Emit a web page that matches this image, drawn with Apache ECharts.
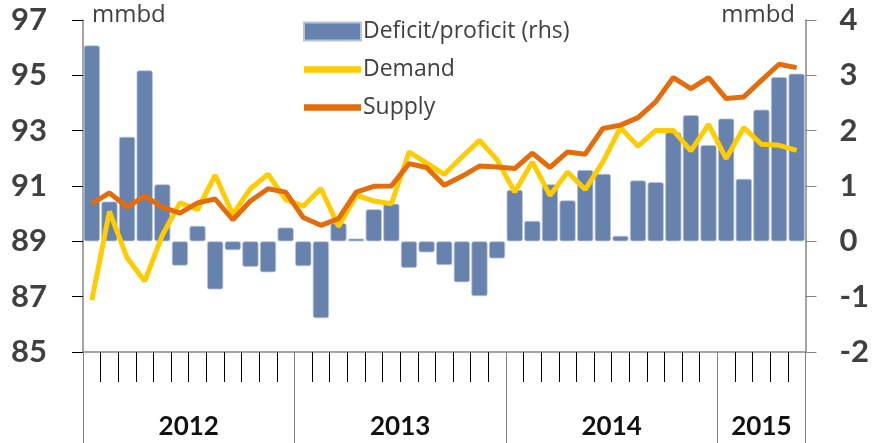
<!DOCTYPE html>
<html>
<head>
<meta charset="utf-8">
<script src="https://cdn.jsdelivr.net/npm/echarts@6/dist/echarts.min.js"></script>
<style>
  html, body { margin: 0; padding: 0; background: #fff; }
  #chart { width: 872px; height: 443px; }
</style>
</head>
<body>
<div id="chart"></div>
<script>
// monthly, Jan 2012 - May 2015
var years = ["2012", "2013", "2014", "2015"];
var monthsPerYear = [12, 12, 12, 5];

var balance = [
  3.54, 0.72, 1.89, 3.09, 1.03, -0.44, 0.28, -0.87, -0.16, -0.46, -0.56, 0.25,
  -0.45, -1.39, 0.33, 0.05, 0.58, 0.68, -0.48, -0.2, -0.43, -0.74, -0.99, -0.31,
  0.93, 0.37, 1.03, 0.74, 1.29, 1.22, 0.1, 1.1, 1.07, 1.97, 2.28, 1.74,
  2.22, 1.13, 2.38, 2.97, 3.03
];
var demand = [
  86.87, 90.08, 88.41, 87.56, 89.22, 90.39, 90.15, 91.39, 89.98, 90.9, 91.43, 90.51,
  90.27, 90.91, 89.54, 90.66, 90.46, 90.36, 92.23, 91.83, 91.42, 92.05, 92.65, 91.95,
  90.78, 91.87, 90.66, 91.51, 90.87, 91.87, 93.11, 92.44, 93.01, 93.01, 92.27, 93.23,
  91.99, 93.11, 92.51, 92.47, 92.29
];
var supply = [
  90.36, 90.75, 90.24, 90.63, 90.24, 90.02, 90.39, 90.53, 89.78, 90.46, 90.9, 90.78,
  89.86, 89.58, 89.82, 90.78, 90.99, 91.0, 91.81, 91.67, 91.03, 91.35, 91.72, 91.69,
  91.63, 92.19, 91.67, 92.23, 92.15, 93.08, 93.2, 93.47, 94.04, 94.92, 94.52, 94.92,
  94.16, 94.22, 94.82, 95.4, 95.28
];

var months = [];
var yearEdges = [0];
var yearMids = [];
monthsPerYear.forEach(function (n, k) {
  for (var m = 1; m <= n; m++) months.push(years[k] + "-" + m);
  var start = yearEdges[yearEdges.length - 1];
  yearEdges.push(start + n);
  yearMids.push(start + n / 2);
});

var chart = echarts.init(document.getElementById("chart"));
var font = "Lato, 'Open Sans', sans-serif";
var textFont = "'Open Sans', sans-serif";
// thick line icon inside the 57x18 legend box
var lineIcon = "path://M0,0L0.01,0M0,5.8L57,5.8L57,12.2L0,12.2ZM57,18L56.99,18";

chart.setOption({
  animation: false,
  textStyle: { fontFamily: font },
  grid: { left: 83, right: 66, top: 20, bottom: 91 },
  legend: {
    orient: "vertical",
    left: 298,
    top: 15,
    itemWidth: 57,
    itemHeight: 18,
    itemGap: 15,
    textStyle: { fontSize: 23, lineHeight: 18, color: "#404040", fontFamily: textFont, padding: [0, 0, 0, -3] },
    data: [
      { name: "Deficit/proficit (rhs)", icon: "rect" },
      { name: "Demand", icon: lineIcon },
      { name: "Supply", icon: lineIcon }
    ]
  },
  graphic: [
    { type: "text", left: 92, top: 3, style: { text: "mmbd", fontSize: 24, fill: "#404040", fontFamily: textFont } },
    { type: "text", right: 77, top: 3, style: { text: "mmbd", fontSize: 24, fill: "#404040", fontFamily: textFont } }
  ],
  xAxis: [
    {
      type: "category",
      data: months,
      boundaryGap: true,
      axisLine: { show: true, onZero: false, lineStyle: { color: "#868686", width: 1.5 } },
      axisTick: { show: true, interval: 0, length: 30, lineStyle: { color: "#000", width: 1 } },
      axisLabel: { show: false }
    },
    {
      type: "value",
      position: "bottom",
      min: 0,
      max: monthsPerYear.reduce(function (a, b) { return a + b; }, 0),
      axisLine: { show: false, onZero: false },
      splitLine: { show: false },
      axisTick: {
        show: true,
        customValues: yearEdges,
        length: 91,
        lineStyle: { color: "#7f7f7f", width: 1 }
      },
      axisLabel: {
        customValues: yearMids,
        margin: 62,
        fontSize: 26,
        fontWeight: "bold",
        color: "#111",
        formatter: function (v) {
          var i = yearMids.indexOf(v);
          return i >= 0 ? years[i] : "";
        }
      }
    }
  ],
  yAxis: [
    {
      type: "value",
      min: 85,
      max: 97,
      interval: 2,
      axisLine: { show: true, onZero: false, lineStyle: { color: "#868686", width: 1.5 } },
      axisTick: { show: true, length: 11, lineStyle: { color: "#000" } },
      splitLine: { show: false },
      axisLabel: { margin: 36, fontSize: 31, fontWeight: "bold", color: "#404040" }
    },
    {
      type: "value",
      min: -2,
      max: 4,
      interval: 1,
      position: "right",
      axisLine: { show: true, onZero: false, lineStyle: { color: "#868686", width: 1.5 } },
      axisTick: { show: true, length: 11, lineStyle: { color: "#868686" } },
      splitLine: { show: false },
      axisLabel: { margin: 34, fontSize: 31, fontWeight: "bold", color: "#404040" }
    }
  ],
  series: [
    {
      name: "Deficit/proficit (rhs)",
      type: "bar",
      yAxisIndex: 1,
      barCategoryGap: "8%",
      data: balance,
      itemStyle: { color: "#6882ae", borderColor: "#b7c4da", borderWidth: 0.8, borderRadius: 2 }
    },
    {
      name: "Demand",
      type: "line",
      yAxisIndex: 0,
      data: demand,
      showSymbol: false,
      symbol: "none",
      lineStyle: { color: "#ffcc00", width: 5 },
      itemStyle: { color: "#ffcc00" }
    },
    {
      name: "Supply",
      type: "line",
      yAxisIndex: 0,
      data: supply,
      showSymbol: false,
      symbol: "none",
      lineStyle: { color: "#e46c0a", width: 5 },
      itemStyle: { color: "#e46c0a" }
    }
  ]
});
</script>
</body>
</html>
